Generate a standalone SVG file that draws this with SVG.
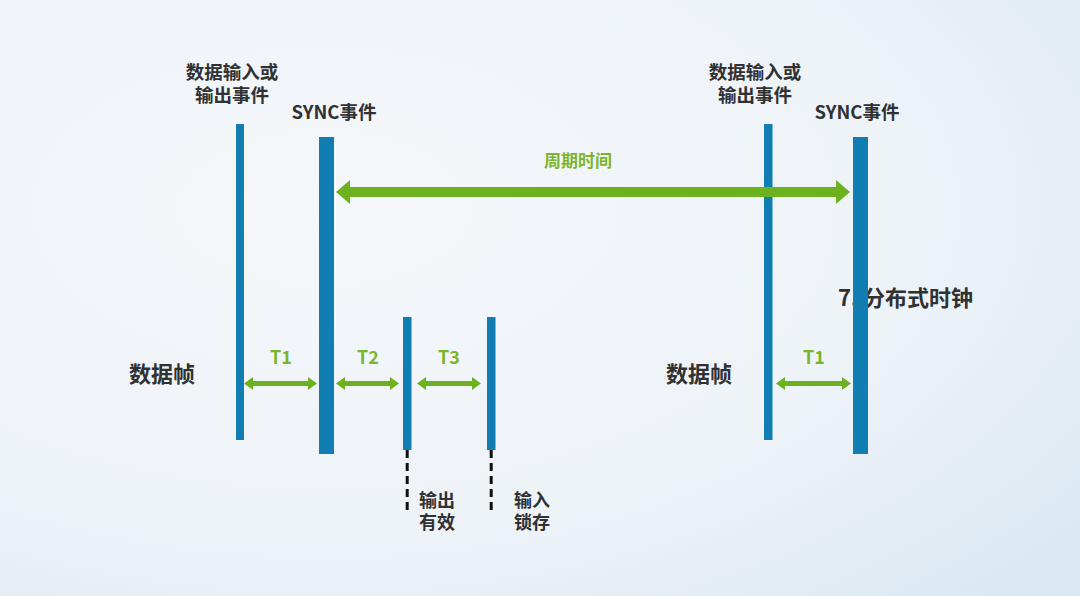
<svg xmlns="http://www.w3.org/2000/svg" width="1080" height="596" viewBox="0 0 1080 596">
<defs>
<radialGradient id="bg" cx="0.3" cy="0.35" r="0.9">
<stop offset="0" stop-color="#f5f7fa"/>
<stop offset="0.6" stop-color="#eef3f8"/>
<stop offset="1" stop-color="#dbe8f2"/>
</radialGradient>
<style>
.t{font-family:"Noto Sans CJK SC","Noto Sans",sans-serif;font-weight:bold;fill:#2f3133;}
.g{font-family:"Noto Sans CJK SC","Noto Sans",sans-serif;font-weight:bold;fill:#7ab52c;}
.bar{fill:#107eb3;}
.arr{fill:#6cb21e;}
.dash{stroke:#111;stroke-width:3;stroke-dasharray:8 5;fill:none;}
</style>
</defs>
<rect width="1080" height="596" fill="url(#bg)"/>

<g id="label-clock">
<text class="t" x="838" y="306" font-size="22">7. 分布式时钟</text>
</g>

<g id="event-left">
<rect class="bar" x="236" y="124" width="8" height="316"/>
<text class="t" font-size="18.5" text-anchor="middle"><tspan x="232" y="79">数据输入或</tspan><tspan x="232" y="102">输出事件</tspan></text>
</g>
<g id="sync-left">
<rect class="bar" x="319" y="137" width="15" height="317"/>
<text class="t" x="334" y="119" font-size="18.5" text-anchor="middle">SYNC事件</text>
</g>
<g id="output-valid">
<rect class="bar" x="403" y="317" width="8.5" height="133"/>
<text class="t" font-size="18"><tspan x="419" y="507">输出</tspan><tspan x="419" y="529">有效</tspan></text>
</g>
<g id="input-latch">
<rect class="bar" x="487" y="317" width="8.5" height="133"/>
<text class="t" font-size="18"><tspan x="514" y="507">输入</tspan><tspan x="514" y="529">锁存</tspan></text>
</g>
<g id="event-right">
<rect class="bar" x="764" y="124" width="8.5" height="316"/>
<text class="t" font-size="18.5" text-anchor="middle"><tspan x="755" y="79">数据输入或</tspan><tspan x="755" y="102">输出事件</tspan></text>
</g>
<g id="sync-right">
<rect class="bar" x="853" y="137" width="15" height="317"/>
<text class="t" x="857" y="119" font-size="18.5" text-anchor="middle">SYNC事件</text>
</g>
<g id="frame-left">
<text class="t" x="162" y="382" font-size="22" text-anchor="middle">数据帧</text>
</g>
<g id="frame-right">
<text class="t" x="699" y="382" font-size="22" text-anchor="middle">数据帧</text>
</g>

<g id="connectors">
<path class="dash" d="M407.2 450 V515"/>
<path class="dash" d="M491.2 450 V515"/>
<polygon class="arr" points="336,192 350,180 350,187 836,187 836,180 850,192 836,204 836,197 350,197 350,204"/>
<polygon class="arr" points="244,383.5 253,377 253,381 308,381 308,377 317,383.5 308,390 308,386 253,386 253,390"/>
<polygon class="arr" points="336,383.5 345,377 345,381 390,381 390,377 399,383.5 390,390 390,386 345,386 345,390"/>
<polygon class="arr" points="417,383.5 426,377 426,381 472,381 472,377 481,383.5 472,390 472,386 426,386 426,390"/>
<polygon class="arr" points="776,383.5 785,377 785,381 842,381 842,377 851,383.5 842,390 842,386 785,386 785,390"/>
<text class="g" x="578" y="167" font-size="17" text-anchor="middle">周期时间</text>
<text class="g" x="281" y="364" font-size="18" text-anchor="middle">T1</text>
<text class="g" x="368" y="364" font-size="18" text-anchor="middle">T2</text>
<text class="g" x="449" y="364" font-size="18" text-anchor="middle">T3</text>
<text class="g" x="814" y="364" font-size="18" text-anchor="middle">T1</text>
</g>
</svg>
